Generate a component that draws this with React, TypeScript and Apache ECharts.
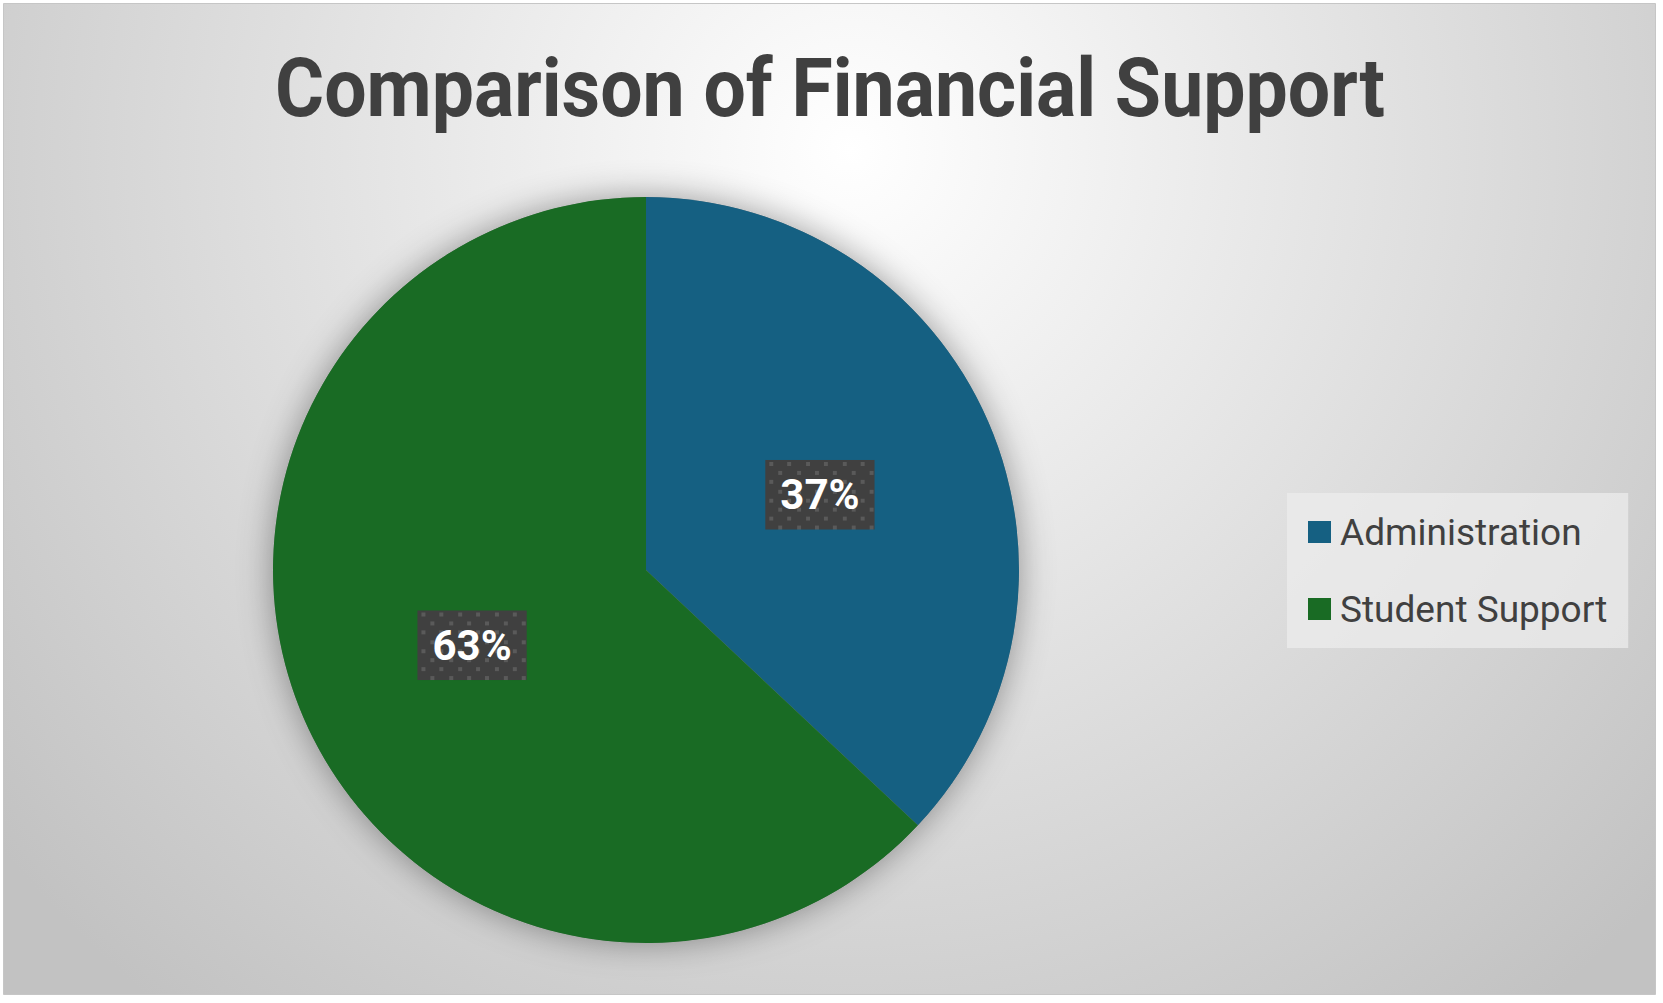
import React, { useEffect, useRef } from "react";
import * as echarts from "echarts";

const titleText = "Comparison of Financial Support";
const categories = ["Administration", "Student Support"];
const values = [37, 63];
const colors = ["#156082", "#196B24"];

const W = 1663;
const H = 1003;

function makeDotPattern(w: number, h: number): string {
  const c = document.createElement("canvas");
  c.width = w;
  c.height = h;
  const ctx = c.getContext("2d")!;
  ctx.fillStyle = "#404040";
  ctx.fillRect(0, 0, w, h);
  ctx.fillStyle = "#5a5a5a";
  const step = 9.2;
  for (let r = 0; 2 + r * step < h; r++) {
    for (let k = 0; ; k++) {
      const x = 4 + (r % 2) * step + k * 2 * step;
      if (x > w) break;
      ctx.fillRect(Math.round(x), Math.round(2 + r * step), 4, 4);
    }
  }
  return c.toDataURL();
}

function measure(font: string, text: string): number {
  const c = document.createElement("canvas");
  const ctx = c.getContext("2d")!;
  ctx.font = font;
  return ctx.measureText(text).width;
}

export default function App() {
  const ref = useRef<HTMLDivElement>(null);

  useEffect(() => {
    document.body.style.margin = "0";
    if (!ref.current) return;
    const chart = echarts.init(ref.current, undefined, { renderer: "svg" });

    const titleFont = "bold 81px Roboto";
    const titleScale = 1110 / measure(titleFont, titleText);
    const pattern = makeDotPattern(110, 70);
    const total = values.reduce((a, b) => a + b, 0);

    const bg = new echarts.graphic.RadialGradient(
      850,
      150,
      1100,
      [
        { offset: 0, color: "#ffffff" },
        { offset: 1, color: "#c2c2c2" },
      ],
      true
    );

    chart.setOption({
      animation: false,
      backgroundColor: "#ffffff",
      graphic: [
        {
          type: "rect",
          z: -100,
          silent: true,
          shape: { x: 3.5, y: 3.5, width: 1652, height: 991 },
          style: { fill: bg, stroke: "#c6c6c6", lineWidth: 1 },
        },
        {
          type: "text",
          x: 830,
          y: 89,
          scaleX: titleScale,
          silent: true,
          style: {
            text: titleText,
            font: titleFont,
            fill: "#404040",
            align: "center",
            verticalAlign: "middle",
          },
        },
      ],
      legend: {
        orient: "vertical",
        left: 1287,
        top: 493,
        padding: [17, 21, 17, 21],
        backgroundColor: "rgba(236,236,236,0.75)",
        itemWidth: 23,
        itemHeight: 22,
        itemGap: 33,
        icon: "rect",
        selectedMode: false,
        data: categories,
        textStyle: {
          fontFamily: "Roboto",
          fontSize: 37,
          color: "#404040",
          lineHeight: 44,
          padding: [0, 0, 0, 4],
        },
      },
      series: [
        {
          type: "pie",
          silent: true,
          z: 1,
          center: [646, 570],
          radius: 373,
          label: { show: false },
          labelLine: { show: false },
          itemStyle: {
            color: "#888888",
            shadowBlur: 34,
            shadowColor: "rgba(0,0,0,0.38)",
          },
          data: [{ value: total, name: "" }],
          legendHoverLink: false,
        },
        {
          type: "pie",
          z: 2,
          center: [646, 570],
          radius: 373,
          startAngle: 90,
          clockwise: true,
          data: categories.map((name, i) => ({
            name,
            value: values[i],
            itemStyle: { color: colors[i] },
          })),
          itemStyle: { borderWidth: 0 },
          label: {
            show: true,
            position: "inside",
            formatter: (p: any) => Math.round(p.percent) + "%",
            fontFamily: "Roboto",
            fontWeight: "bold",
            fontSize: 42,
            color: "#ffffff",
            lineHeight: 50,
            padding: [10, 15],
            backgroundColor: { image: pattern },
            shadowColor: "rgba(0,0,0,0.6)",
            shadowBlur: 10,
            shadowOffsetX: 4,
            shadowOffsetY: 4,
          },
          labelLine: { show: false },
        },
      ],
    });

    return () => chart.dispose();
  }, []);

  return <div ref={ref} style={{ width: W, height: H }} />;
}
